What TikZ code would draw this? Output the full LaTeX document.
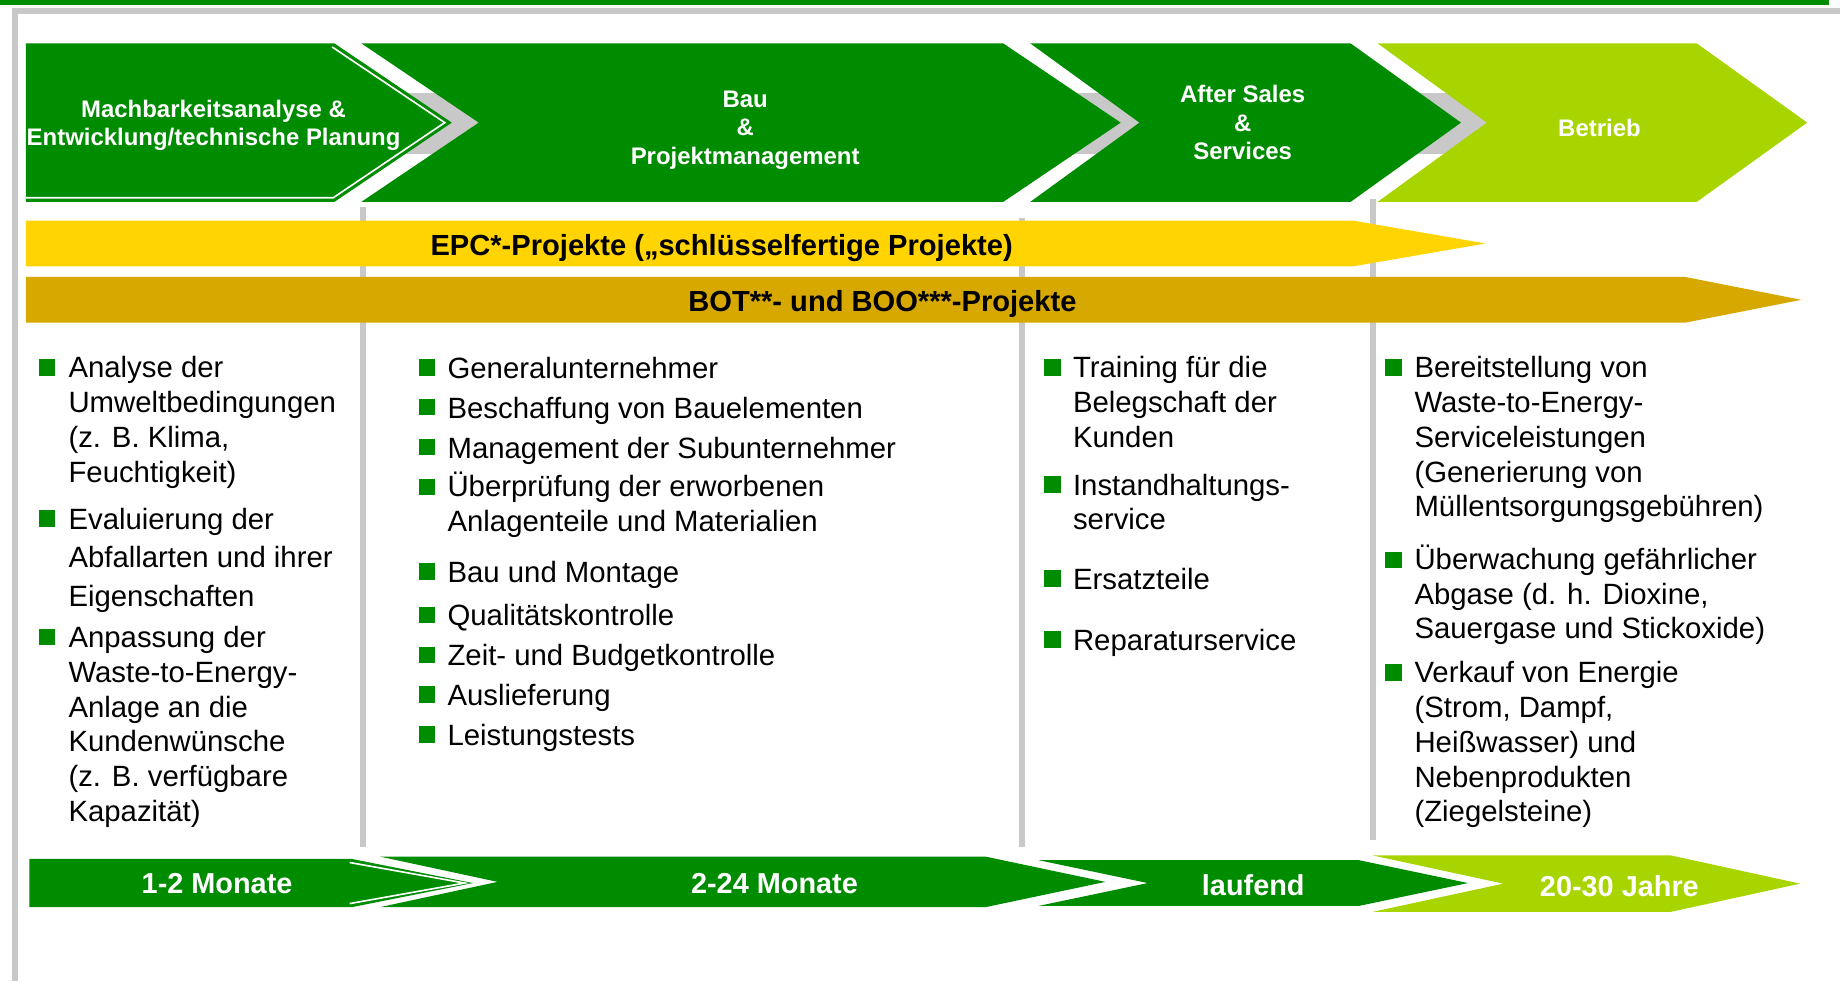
\documentclass[tikz,border=0pt]{standalone}
\usepackage{fontspec}
\setmainfont{Liberation Sans}
\usepackage{tikz}

\definecolor{dkgreen}{RGB}{0,140,0}
\definecolor{ltgreen}{RGB}{168,212,0}
\definecolor{epcyellow}{RGB}{255,212,0}
\definecolor{botgold}{RGB}{214,168,0}
\definecolor{sepgray}{RGB}{200,200,200}

\begin{document}
\begin{tikzpicture}[x=0.5pt, y=-0.5pt,
    head/.style = {text=white, align=center, font=\fontsize{10.2}{12.1}\selectfont\bfseries},
    band/.style = {font=\fontsize{12.4}{15}\selectfont\bfseries},
    time/.style = {text=white, font=\fontsize{12.3}{15}\selectfont\bfseries},
    item/.style = {anchor=north west, inner sep=0, align=left, font=\fontsize{12.5}{14.8}\selectfont, execute at begin node={\rule{0pt}{12pt}}},
    dot/.style = {fill=dkgreen, minimum size=7pt, inner sep=0},
    sep/.style = {sepgray, line width=2.6pt}]
    \useasboundingbox (0,0) rectangle (1568,836);
    \fill[dkgreen] (0,0) rectangle (1559,4.5);
    \fill[sepgray] (10.5,7) rectangle (1568,12);
    \fill[sepgray] (10.5,7) rectangle (15,836);

    \fill[sepgray] (270,79) rectangle (420,131);
    \fill[sepgray] (840,79) rectangle (985,131);
    \fill[sepgray] (1135,79) rectangle (1280,131);

    \fill[dkgreen] (22,37) -- (285,37) -- (385,104.5) -- (285,172) -- (22,172) -- cycle;
    \draw[white, line width=0.7pt] (22,168.5) -- (284,168.5) -- (379,104.5) -- (283,40);
    \fill[dkgreen] (308,37) -- (855,37) -- (955,104.5) -- (855,172) -- (308,172) -- (408,104.5) -- cycle;
    \fill[dkgreen] (878,37) -- (1151,37) -- (1245,104.5) -- (1151,172) -- (878,172) -- (971,104.5) -- cycle;
    \fill[ltgreen] (1174,37) -- (1446,37) -- (1540,104.5) -- (1446,172) -- (1174,172) -- (1267,104.5) -- cycle;

    \node[head] (p1) at (182,107) {Machbarkeitsanalyse \&\\Entwicklung/technische Planung};
    \node[head] (p2) at (635,111) {Bau\\\&\\Projektmanagement};
    \node[head] (p3) at (1059,104.5) {After Sales\\\&\\Services};
    \node[head] (p4) at (1363,109) {Betrieb};

    \draw[sep] (309,176) -- (309,722);
    \draw[sep] (871,186) -- (871,722);
    \draw[sep] (1170,170) -- (1170,716);

    \fill[epcyellow] (22,188) -- (1153,188) -- (1266,207.5) -- (1153,227) -- (22,227) -- cycle;
    \node[band] (epc) at (615,211) {EPC*-Projekte („schlüsselfertige Projekte)};
    \fill[botgold] (22,236) -- (1436,236) -- (1535,255.5) -- (1436,275) -- (22,275) -- cycle;
    \node[band] (bot) at (752,259) {BOT**- und BOO***-Projekte};

    \node[item] (a1) at (58,303.5) {Analyse der\\Umweltbedingungen\\(z. B. Klima,\\Feuchtigkeit)};
    \node[item, font=\fontsize{12.5}{16.5}\selectfont] (a2) at (58,432.5) {Evaluierung der\\Abfallarten und ihrer\\Eigenschaften};
    \node[item] (a3) at (58,533.5) {Anpassung der\\Waste-to-Energy-\\Anlage an die\\Kundenwünsche\\(z. B. verfügbare\\Kapazität)};
    \node[dot] (a1d) at (40,313) {};
    \node[dot] (a2d) at (40,442) {};
    \node[dot] (a3d) at (40,543) {};

    \node[item] (b1) at (381,298) {Generalunternehmer};
    \node[item] (b2) at (381,332) {Beschaffung von Bauelementen};
    \node[item] (b3) at (381,366) {Management der Subunternehmer};
    \node[item] (b4) at (381,402) {Überprüfung der erworbenen\\Anlagenteile und Materialien};
    \node[item] (b5) at (381,472) {Bau und Montage};
    \node[item] (b6) at (381,509) {Qualitätskontrolle};
    \node[item] (b7) at (381,543) {Zeit- und Budgetkontrolle};
    \node[item] (b8) at (381,577) {Auslieferung};
    \node[item] (b9) at (381,611) {Leistungstests};
    \node[dot] (b1d) at (364,313) {};
    \node[dot] (b2d) at (364,347) {};
    \node[dot] (b3d) at (364,381) {};
    \node[dot] (b4d) at (364,415) {};
    \node[dot] (b5d) at (364,487) {};
    \node[dot] (b6d) at (364,524) {};
    \node[dot] (b7d) at (364,558) {};
    \node[dot] (b8d) at (364,592) {};
    \node[dot] (b9d) at (364,626) {};

    \node[item] (c1) at (914,303.5) {Training für die\\Belegschaft der\\Kunden};
    \node[item] (c2) at (914,403.5) {Instandhaltungs-\\service};
    \node[item] (c3) at (914,478) {Ersatzteile};
    \node[item] (c4) at (914,530) {Reparaturservice};
    \node[dot] (c1d) at (897,313) {};
    \node[dot] (c2d) at (897,413) {};
    \node[dot] (c3d) at (897,493) {};
    \node[dot] (c4d) at (897,545) {};

    \node[item] (d1) at (1205,303.5) {Bereitstellung von\\Waste-to-Energy-\\Serviceleistungen\\(Generierung von\\Müllentsorgungsgebühren)};
    \node[item] (d2) at (1205,464) {Überwachung gefährlicher\\Abgase (d. h. Dioxine,\\Sauergase und Stickoxide)};
    \node[item] (d3) at (1205,563.5) {Verkauf von Energie\\(Strom, Dampf,\\Heißwasser) und\\Nebenprodukten\\(Ziegelsteine)};
    \node[dot] (d1d) at (1187.5,313) {};
    \node[dot] (d2d) at (1187.5,477) {};
    \node[dot] (d3d) at (1187.5,573) {};

    \fill[dkgreen] (25,732) -- (300,732) -- (403,752.5) -- (300,773) -- (25,773) -- cycle;
    \draw[white, line width=0.7pt] (298,735) -- (396,752.5) -- (298,770);
    \fill[dkgreen] (324,730) -- (840,730) -- (942,751.5) -- (840,773) -- (324,773) -- (424,751.5) -- cycle;
    \fill[dkgreen] (885,733) -- (1158,733) -- (1251,752.5) -- (1158,772) -- (885,772) -- (978,752.5) -- cycle;
    \fill[ltgreen] (1170,729) -- (1424,729) -- (1534,753) -- (1424,777) -- (1170,777) -- (1281,753) -- cycle;
    \node[time] (t1) at (185,753) {1-2 Monate};
    \node[time] (t2) at (660,753) {2-24 Monate};
    \node[time] (t3) at (1068,754) {laufend};
    \node[time] (t4) at (1380,755) {20-30 Jahre};
\end{tikzpicture}
\end{document}
